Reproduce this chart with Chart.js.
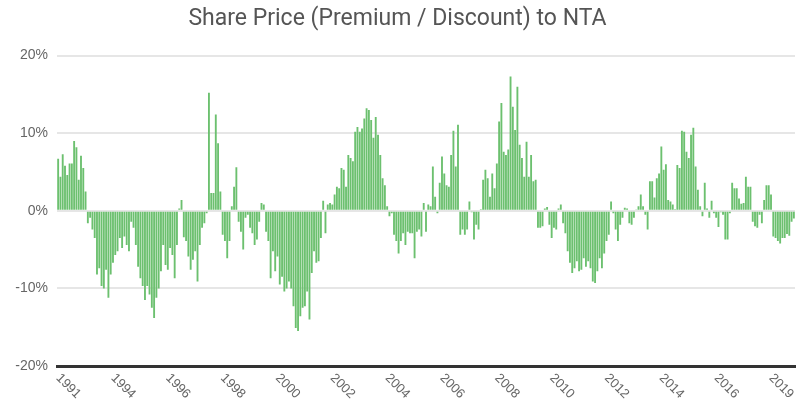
<!DOCTYPE html>
<html>
<head>
<meta charset="utf-8">
<script src="https://cdn.jsdelivr.net/npm/chart.js@4.4.1/dist/chart.umd.min.js"></script>
<style>
  html, body { margin: 0; padding: 0; background: #fff; }
  #wrap { width: 797px; height: 415px; position: relative; }
</style>
</head>
<body>
<div id="wrap"><canvas id="chart"></canvas></div>
<script>
// tick years shown on the x axis, one every TICK_EVERY bars
const tickYears = ['1991', '1994', '1996', '1998', '2000', '2002', '2004', '2006', '2008', '2010', '2012', '2014', '2016', '2019'];
const TICK_EVERY = 24;

// share price premium (+) / discount (-) to NTA, %
const premium = [
    6.7, 4.4, 7.3, 5.8, 4.6, 6.1, 6.1, 9.0, 8.2, 4.0,
    7.1, 5.5, 2.5, -1.6, -0.9, -2.4, -3.5, -8.2, -7.4, -9.7,
    -10.0, -7.6, -11.2, -8.2, -6.7, -5.7, -5.2, -3.5, -4.8, -3.3,
    -4.4, -5.2, -1.4, -2.2, -4.4, -7.2, -8.7, -9.7, -11.5, -9.7,
    -10.8, -12.5, -13.8, -11.2, -10.0, -7.8, -4.4, -7.0, -7.6, -4.8,
    -5.7, -8.7, -4.4, 0.3,
    1.4, -3.4, -3.9, -5.9, -7.6, -6.3, -5.2, -9.1, -4.4, -2.2,
    -1.6, -0.3, 15.2, 2.3, 2.3, 12.4, 8.7, 2.5, -3.1, -3.9,
    -6.1, -3.9, 0.6, 3.1, 5.6, -1.4, -2.7, -5.0, -0.9, -0.5,
    -2.2, -2.9, -4.4, -3.7, -1.4, 1.0, 0.8, -2.7, -3.9, -8.7,
    -5.2, -7.8, -5.9, -9.5, -8.5, -10.4, -10.0, -9.1, -10.0, -12.3,
    -15.1, -15.5, -13.6,
    -12.5, -12.3, -10.4, -14.0, -8.0, -5.2, -6.7, -6.5, -3.5, 1.3,
    -2.9, 0.8, 1.0, 0.8, 2.1, 3.1, 2.9, 5.5, 5.3, 3.1,
    7.2, 6.8, 6.4, 10.2, 10.8, 10.2, 10.6, 11.9, 13.2, 13.0,
    11.7, 9.4, 12.1, 9.8, 7.2, 4.2, 3.3, 0.6, -0.7, -0.3,
    -3.1, -3.9, -5.5, -3.9, -2.9, -4.4, -2.7, -2.9, -2.9, -6.1,
    -2.7, -2.4,
    -3.3, 1.0, -2.7, 0.8, 0.6, 5.7, 1.8, -0.3, 3.6, 7.0,
    4.8, 3.3, 3.1, 7.2, 10.3, 5.7, 11.1, -3.1, -2.4, -3.1,
    -2.4, 1.2, -0.2, -3.7, -1.8, -2.4, 0.2, 4.0, 5.3, 4.2,
    1.8, 4.8, 2.9, 6.1, 11.5, 13.9, 7.6, 7.2, 7.9, 17.3,
    13.4, 10.4, 16.0, 8.5, 6.8, 4.4, 8.9, 4.4, 7.2, 3.8,
    4.0, -2.2,
    -2.2, -2.0, 0.3, 0.5, -1.8, -3.5, -2.2, -2.4, 0.3, 0.8,
    -1.6, -2.9, -5.2, -6.7, -8.0, -7.4, -6.5, -7.8, -7.6, -6.1,
    -7.2, -6.5, -7.4, -9.1, -9.3, -7.8, -6.1, -7.4, -5.5, -3.9,
    -3.1, 1.2, -0.3, -2.4, -3.9, -1.8, -0.9, 0.4, 0.3, -1.6,
    -1.8, -0.9, 0.1, 0.6, 2.1, 0.6, -0.5, -2.4, 3.8, 3.8,
    1.7, 4.2, 4.8,
    8.3, 5.3, 6.0, 1.4, 1.2, 0.8, 0.2, 5.9, 5.5, 10.3,
    10.2, 7.6, 6.8, 9.8, 10.7, 5.7, 2.7, 0.6, -0.7, 3.6,
    0.3, -0.9, 1.3, -0.3, -0.9, -2.1, -0.2, -0.5, -3.7, -3.7,
    -0.3, 3.6, 2.9, 2.9, 1.6, 0.9, 1.0, 4.4, 3.1, 3.1,
    -1.4, -2.0, -2.2, -0.5, -1.6, 1.4, 3.3, 3.3, 2.1, -3.3,
    -3.5, -3.9, -4.2, -3.5, -3.5, -3.0, -3.2, -1.4, -1.0
];

const labels = premium.map((_, i) => (i % TICK_EVERY === 0 ? tickYears[i / TICK_EVERY] || '' : ''));

const GREEN = '#6cc06f';
const TEXT = '#666';

// x labels run down-right, which Chart.js can't do natively
const slantedTicks = {
    id: 'slantedTicks',
    afterDraw(chart) {
        const xs = chart.scales.x;
        const ctx = chart.ctx;
        const y = chart.chartArea.bottom + 10;
        ctx.save();
        ctx.font = '13px "Liberation Sans", Arial, sans-serif';
        ctx.fillStyle = TEXT;
        ctx.textAlign = 'left';
        ctx.textBaseline = 'middle';
        chart.data.labels.forEach((lab, i) => {
            if (!lab) return;
            const x = xs.getPixelForValue(i);
            ctx.save();
            ctx.translate(x, y);
            ctx.rotate(Math.PI / 4);
            ctx.fillText(lab, 0, 0);
            ctx.restore();
        });
        ctx.restore();
    }
};

new Chart(document.getElementById('chart'), {
    type: 'bar',
    data: {
        labels,
        datasets: [{
            data: premium,
            backgroundColor: GREEN,
            borderWidth: 0,
            barPercentage: 0.82,
            categoryPercentage: 1.0
        }]
    },
    options: {
        responsive: true,
        maintainAspectRatio: false,
        animation: false,
        layout: { padding: { left: 0, right: 2, top: 0, bottom: 49 } },
        plugins: {
            legend: { display: false },
            tooltip: { enabled: false },
            title: {
                display: true,
                text: 'Share Price (Premium / Discount) to NTA',
                color: '#555',
                font: { family: 'Roboto, "Liberation Sans", sans-serif', size: 23, weight: 'normal' },
                padding: { top: 5, bottom: 23 }
            }
        },
        scales: {
            x: {
                grid: { display: false, drawTicks: false },
                border: { display: true, color: '#333', width: 3 },
                ticks: { display: false, autoSkip: false }
            },
            y: {
                min: -20,
                max: 20,
                afterFit: s => { s.width = 57; },
                grid: { color: '#e6e6e6', lineWidth: 2, drawTicks: false },
                border: { display: false },
                ticks: {
                    stepSize: 10,
                    padding: 9,
                    color: TEXT,
                    font: { family: '"Liberation Sans", Arial, sans-serif', size: 14 },
                    callback: v => v + '%'
                }
            }
        }
    },
    plugins: [slantedTicks]
});
</script>
</body>
</html>
